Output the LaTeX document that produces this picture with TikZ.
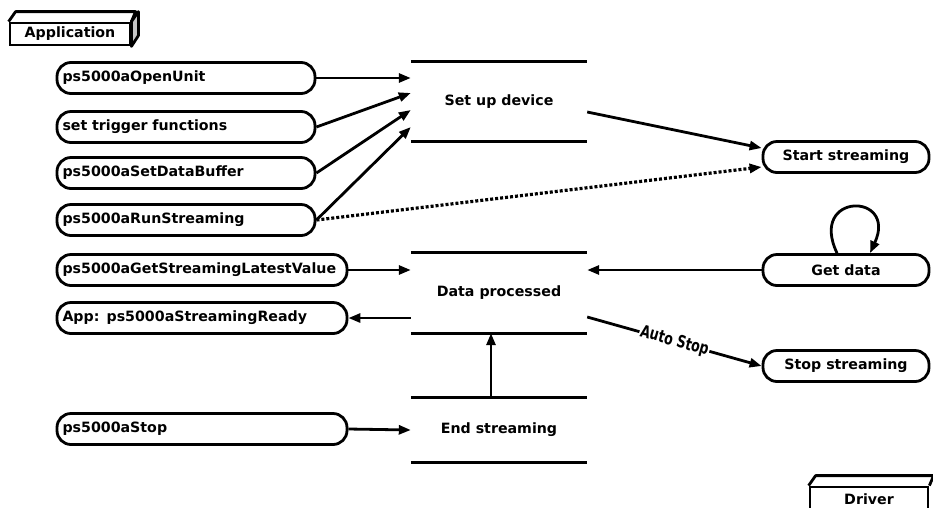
\documentclass[tikz,border=0pt]{standalone}
\usepackage{fontspec}
\setmainfont{DejaVu Sans}
\usetikzlibrary{arrows.meta}
\tikzset{
  base/.style={font=\fontsize{14.2}{16}\selectfont\bfseries},
  pill/.style={base, draw, line width=2.8pt, rounded corners=14pt, minimum height=31pt, inner sep=0pt},
  lpill/.style={pill, text width=247pt, inner xsep=5.5pt, align=left},
  wpill/.style={pill, text width=279pt, inner xsep=5.5pt, align=left},
  rpill/.style={pill, minimum width=166pt, align=center},
  state/.style={base, draw=none, minimum width=176pt, inner sep=0pt},
  bar/.style={line width=3pt},
  conn/.style={line width=2.8pt, -{Triangle[length=12pt,width=9pt]}},
  dotconn/.style={line width=3.2pt, dash pattern=on 3pt off 2pt, -{Triangle[length=12pt,width=9pt]}},
  boxnode/.style={base, draw, line width=2.8pt, inner sep=0pt},
}
\begin{document}
\begin{tikzpicture}[x=1pt,y=-1pt]
\useasboundingbox (0,0) rectangle (933,507);
\clip (0,0) rectangle (933,507);

% Application box
\node[boxnode, minimum width=120pt, minimum height=22pt] (app) at (70,34) {Application};
\draw[line width=2.8pt, line join=round] (app.north west) -- ++(7,-10) -- ++(120,0) -- (app.north east);
\draw[line width=2.8pt, line join=round, fill=gray!45] (app.north east) -- ++(7,-10) -- ++(0,24) -- (app.south east) -- cycle;

% Driver box
\node[boxnode, minimum width=118pt, minimum height=30pt, text depth=0pt] (drv) at (869,502) {\raisebox{6pt}{Driver}};
\draw[line width=2.8pt, line join=round] (drv.north west) -- ++(7,-10) -- ++(118,0) -- (drv.north east);

% left pills
\node[lpill] (o1) at (186,78) {ps5000aOpenUnit};
\node[lpill] (o2) at (186,127) {set trigger functions};
\node[lpill] (o3) at (186,173) {ps5000aSetDataBuffer};
\node[lpill] (o4) at (186,220) {ps5000aRunStreaming};
\node[wpill] (o5) at (202,270) {ps5000aGetStreamingLatestValue};
\node[wpill] (o6) at (202,318) {App: ps5000aStreamingReady};
\node[wpill] (o7) at (202,429) {ps5000aStop};

% right pills
\node[rpill] (start) at (846,157) {Start streaming};
\node[rpill] (get) at (846,270) {Get data};
\node[rpill] (stop) at (846,366) {Stop streaming};

% states
\node[state, minimum height=79pt] (setup) at (499,101.5) {Set up device};
\node[state, minimum height=80pt] (data) at (499,293) {Data processed};
\node[state, minimum height=64pt] (end) at (499,430) {End streaming};
\foreach \s in {setup,data,end}{
  \draw[bar] (\s.north west) -- (\s.north east);
  \draw[bar] (\s.south west) -- (\s.south east);
}

% connectors
\draw[conn] (o1.east) -- ([yshift=23.5pt]setup.west);
\draw[conn] (o2.east) -- ([yshift=8.5pt]setup.west);
\draw[conn] (o3.east) -- ([yshift=-8.5pt]setup.west);
\draw[conn] (o4.east) -- ([yshift=-25.5pt]setup.west);
\draw[dotconn] (o4.east) -- ([yshift=-10pt]start.west);
\draw[conn] ([yshift=-10.5pt]setup.east) -- ([yshift=9pt]start.west);

\draw[conn] (o5.east) -- ([yshift=23pt]data.west);
\draw[conn] ([yshift=-25pt]data.west) -- (o6.east);
\draw[conn] (get.west) -- ([yshift=23pt]data.east);
\draw[conn] ([yshift=-24pt]data.east) -- node[midway, sloped, fill=white, inner xsep=1pt, inner ysep=1pt, font=\fontsize{17}{17}\selectfont\bfseries] {\scalebox{0.74}[1]{Auto Stop}} (stop.west);
\draw[conn] (o7.east) -- (end.west);
\draw[conn] ([xshift=-8pt]end.north) -- ([xshift=-8pt]data.south);

% loop
\draw[conn] ([xshift=-9pt]get.north) .. controls (808,192) and (898,192) .. ([xshift=24pt]get.north);
\end{tikzpicture}
\end{document}
